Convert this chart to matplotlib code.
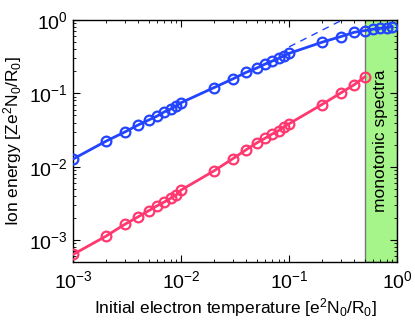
import matplotlib
matplotlib.use("Agg")
import matplotlib.pyplot as plt
from matplotlib.ticker import LogLocator, NullFormatter

plt.rcParams['font.family'] = ['Liberation Sans', 'DejaVu Sans']
plt.rcParams['mathtext.fontset'] = 'custom'
plt.rcParams['mathtext.rm'] = 'Liberation Sans'
plt.rcParams['mathtext.it'] = 'Liberation Sans'

# temperatures (same for both series)
T = [0.001, 0.002, 0.003, 0.004, 0.005, 0.006, 0.007, 0.008, 0.009,
     0.01, 0.02, 0.03, 0.04, 0.05, 0.06, 0.07, 0.08, 0.09,
     0.1, 0.2, 0.3, 0.4, 0.5, 0.6, 0.7, 0.8, 0.9]
E_blue = [0.0127, 0.0221, 0.0296, 0.037, 0.0432, 0.049, 0.056, 0.061, 0.067,
          0.0745, 0.119, 0.157, 0.193, 0.221, 0.251, 0.276, 0.30, 0.325,
          0.351, 0.496, 0.593, 0.68, 0.716, 0.75, 0.77, 0.79, 0.81]
T_red = [0.001, 0.002, 0.003, 0.004, 0.005, 0.006, 0.007, 0.008, 0.009,
         0.01, 0.02, 0.03, 0.04, 0.05, 0.06, 0.07, 0.08, 0.09,
         0.1, 0.2, 0.3, 0.4, 0.5]
E_red = [6.35e-4, 1.12e-3, 1.63e-3, 2.07e-3, 2.5e-3, 2.93e-3, 3.3e-3, 3.7e-3, 4.1e-3,
         4.8e-3, 8.7e-3, 0.0128, 0.017, 0.021, 0.0245, 0.028, 0.031, 0.035,
         0.0385, 0.070, 0.101, 0.131, 0.167]
# extrapolated fit (dashed)
T_fit = [0.1, 0.31]
E_fit = [0.43, 1.0]

blue = '#2244ff'
red = '#ff3870'

fig = plt.figure(figsize=(4.15, 3.28), dpi=100)
ax = fig.add_axes([0.176, 0.201, 0.781, 0.738])

ax.axvspan(0.5, 1.0, facecolor='#a6f58a', edgecolor='#777777', lw=1, zorder=1)
ax.text(0.707, 0.5, 'monotonic spectra', rotation=90, ha='center', va='center',
        fontsize=12.5, transform=ax.get_xaxis_transform(), zorder=2)

ax.plot(T_fit, E_fit, '--', color=blue, lw=1, dashes=(5, 4), zorder=3)
ax.plot(T, E_blue, '-o', color=blue, lw=2, ms=7, mfc='none', mew=1.6, zorder=4)
ax.plot(T_red, E_red, '-o', color=red, lw=2, ms=7, mfc='none', mew=1.6, zorder=4)

ax.set_xscale('log')
ax.set_yscale('log')
ax.set_xlim(1e-3, 1)
ax.set_ylim(5e-4, 1)
ax.xaxis.set_major_locator(LogLocator(base=10, numticks=10))
ax.yaxis.set_major_locator(LogLocator(base=10, numticks=10))
ax.xaxis.set_minor_locator(LogLocator(base=10, subs=range(2, 10), numticks=10))
ax.yaxis.set_minor_locator(LogLocator(base=10, subs=range(2, 10), numticks=10))
ax.xaxis.set_minor_formatter(NullFormatter())
ax.yaxis.set_minor_formatter(NullFormatter())
ax.tick_params(which='both', direction='in', top=True, right=True, labelsize=14)
ax.tick_params(axis='x', which='major', pad=6)
ax.tick_params(which='major', length=5)
ax.tick_params(which='minor', length=2.5)
for s in ax.spines.values():
    s.set_linewidth(1)

ax.set_xlabel('Initial electron temperature [e$^2$N$_0$/R$_0$]', fontsize=12.5, labelpad=3)
ax.set_ylabel('Ion energy [Ze$^2$N$_0$/R$_0$]', fontsize=12.5, labelpad=4)

fig.savefig('out.png', dpi=100)
